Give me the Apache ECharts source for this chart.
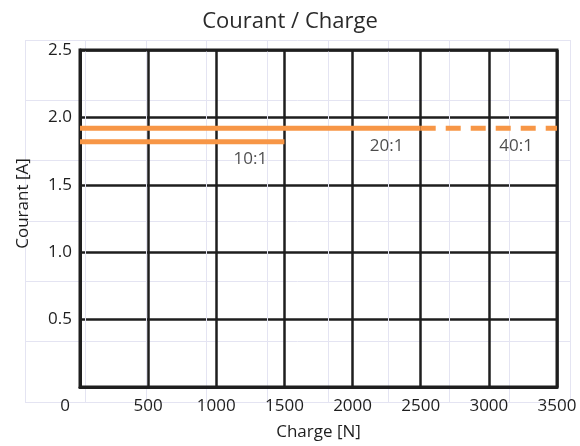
<!DOCTYPE html>
<html>
<head>
<meta charset="utf-8">
<script src="https://cdn.jsdelivr.net/npm/echarts@6/dist/echarts.min.js"></script>
<style>
  html, body { margin: 0; padding: 0; background: #fff; }
  #chart { width: 580px; height: 446px; }
</style>
</head>
<body>
<div id="chart"></div>
<script>
// Données
const ratio10 = [[0, 1.82], [1500, 1.82]]
const ratio20 = [[0, 1.92], [2500, 1.92]]
const ratio40 = [[2500, 1.92], [3500, 1.92]]
const ratioLabels = [
  [1250, 1.69, '10:1'],
  [2250, 1.79, '20:1'],
  [3200, 1.79, '40:1']
]
const xTicks = [0, 500, 1000, 1500, 2000, 2500, 3000, 3500]
const yTicks = [0, 0.5, 1.0, 1.5, 2.0, 2.5]

const FONT = 'Open Sans'
const ORANGE = '#F79646'
const INK = '#1e1e1e'

const chart = echarts.init(document.getElementById('chart'), null, { renderer: 'canvas' })

const option = {
  animation: false,
  backgroundColor: '#fff',
  textStyle: { fontFamily: FONT },
  title: {
    text: 'Courant / Charge',
    left: 'center',
    top: 6,
    textStyle: { fontFamily: FONT, fontSize: 22, fontWeight: 'normal', color: '#2a2a2a' }
  },
  grid: [
    // quadrillage principal
    { left: 80, right: 23, top: 50, bottom: 56, show: true, borderColor: INK, borderWidth: 3, z: 2 },
    // quadrillage pâle de fond
    { left: 25, width: 545, top: 40, height: 362, show: false, z: 0 }
  ],
  xAxis: [
    {
      type: 'value',
      gridIndex: 0,
      min: xTicks[0],
      max: xTicks[xTicks.length - 1],
      interval: 500,
      axisLine: { show: true, lineStyle: { color: INK, width: 3 } },
      axisTick: { show: false },
      splitLine: { show: true, lineStyle: { color: INK, width: 2.5 } },
      axisLabel: {
        margin: 11,
        fontSize: 17,
        color: INK,
        fontFamily: FONT,
        formatter: v => v === 0 ? '{z|0}' : String(v),
        rich: { z: { fontSize: 17, color: INK, fontFamily: FONT, padding: [0, 30, 0, 0] } }
      },
      name: 'Charge [N]',
      nameLocation: 'middle',
      nameGap: 37,
      nameTextStyle: { fontSize: 17, color: INK, fontFamily: FONT }
    },
    {
      type: 'value',
      gridIndex: 1,
      min: 0,
      max: 9,
      interval: 1,
      axisLine: { show: false },
      axisTick: { show: false },
      axisLabel: { show: false },
      splitLine: { show: true, lineStyle: { color: '#e4e4f2', width: 1 } }
    }
  ],
  yAxis: [
    {
      type: 'value',
      gridIndex: 0,
      min: yTicks[0],
      max: yTicks[yTicks.length - 1],
      interval: 0.5,
      axisLine: { show: true, lineStyle: { color: INK, width: 3 } },
      axisTick: { show: false },
      splitLine: { show: true, lineStyle: { color: INK, width: 2.5 } },
      axisLabel: {
        margin: 8,
        fontSize: 17,
        color: INK,
        fontFamily: FONT,
        formatter: v => v === 0 ? '' : v.toFixed(1)
      },
      name: 'Courant [A]',
      nameLocation: 'middle',
      nameGap: 48,
      nameTextStyle: { fontSize: 17, color: INK, fontFamily: FONT, padding: [0, 0, 0, 30] }
    },
    {
      type: 'value',
      gridIndex: 1,
      min: 0,
      max: 6,
      interval: 1,
      axisLine: { show: false },
      axisTick: { show: false },
      axisLabel: { show: false },
      splitLine: { show: true, lineStyle: { color: '#e4e4f2', width: 1 } }
    }
  ],
  series: [
    {
      name: '10:1',
      type: 'line',
      xAxisIndex: 0,
      yAxisIndex: 0,
      data: ratio10,
      symbol: 'none',
      z: 5,
      lineStyle: { color: ORANGE, width: 5, cap: 'butt' }
    },
    {
      name: '20:1',
      type: 'line',
      xAxisIndex: 0,
      yAxisIndex: 0,
      data: ratio20,
      symbol: 'none',
      z: 5,
      lineStyle: { color: ORANGE, width: 5, cap: 'butt' }
    },
    {
      name: '40:1',
      type: 'line',
      xAxisIndex: 0,
      yAxisIndex: 0,
      data: ratio40,
      symbol: 'none',
      z: 5,
      lineStyle: { color: ORANGE, width: 5, type: [15, 10], cap: 'butt' }
    },
    {
      name: 'étiquettes',
      type: 'scatter',
      xAxisIndex: 0,
      yAxisIndex: 0,
      data: ratioLabels,
      symbolSize: 0,
      z: 6,
      label: {
        show: true,
        position: 'inside',
        formatter: p => p.data[2],
        fontSize: 17,
        color: INK,
        fontFamily: FONT
      }
    }
  ]
}

chart.setOption(option)
</script>
</body>
</html>
